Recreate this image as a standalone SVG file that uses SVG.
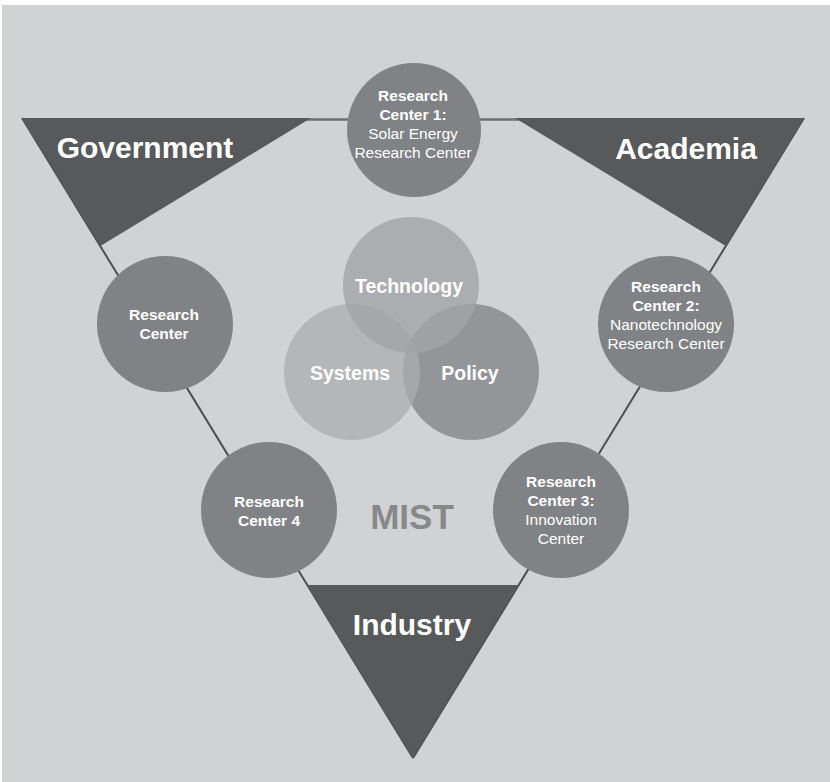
<svg xmlns="http://www.w3.org/2000/svg" width="830" height="782" viewBox="0 0 830 782">
  <style>
    .lbl { font-family: "Liberation Sans", Arial, sans-serif; fill: #ffffff; text-anchor: middle; }
    .big { font-size: 30px; font-weight: bold; }
    .rcb { font-size: 15.5px; font-weight: bold; }
    .rcn { font-size: 15.5px; font-weight: normal; }
    .venn { font-size: 19.5px; font-weight: bold; }
    .tri { fill: #58595b; }
    .rc { fill: #808285; }
  </style>
  <rect x="0" y="0" width="830" height="782" fill="#ffffff"/>
  <rect x="2" y="5" width="828" height="777" fill="#d1d2d4"/>

  <g id="connectors">
    <line x1="300" y1="119.5" x2="530" y2="119.5" stroke="#6d6e71" stroke-width="2.5"/>
    <line x1="22" y1="118" x2="413" y2="758" stroke="#4d4e50" stroke-width="2"/>
    <line x1="804" y1="118" x2="413" y2="758" stroke="#4d4e50" stroke-width="2"/>
  </g>

  <g id="government">
    <polygon class="tri" points="22,118 311,118 100.4,246"/>
    <text class="lbl big" x="145" y="158">Government</text>
  </g>
  <g id="academia">
    <polygon class="tri" points="515,118 804,118 725.8,246"/>
    <text class="lbl big" x="686" y="159">Academia</text>
  </g>
  <g id="industry">
    <polygon class="tri" points="307,585 518,585 413,758"/>
    <text class="lbl big" x="412" y="635">Industry</text>
  </g>

  <g id="rc1">
    <circle class="rc" cx="414" cy="130" r="67"/>
    <text class="lbl rcb" x="413" y="101">Research</text>
    <text class="lbl rcb" x="413" y="120">Center 1:</text>
    <text class="lbl rcn" x="413" y="139">Solar Energy</text>
    <text class="lbl rcn" x="413" y="158">Research Center</text>
  </g>
  <g id="rc-left">
    <circle class="rc" cx="165" cy="324" r="68"/>
    <text class="lbl rcb" x="164" y="320">Research</text>
    <text class="lbl rcb" x="164" y="339">Center</text>
  </g>
  <g id="rc2">
    <circle class="rc" cx="666" cy="324" r="68"/>
    <text class="lbl rcb" x="666" y="292">Research</text>
    <text class="lbl rcb" x="666" y="311">Center 2:</text>
    <text class="lbl rcn" x="666" y="330">Nanotechnology</text>
    <text class="lbl rcn" x="666" y="349">Research Center</text>
  </g>
  <g id="rc4">
    <circle class="rc" cx="269" cy="510" r="68"/>
    <text class="lbl rcb" x="269" y="507">Research</text>
    <text class="lbl rcb" x="269" y="526">Center 4</text>
  </g>
  <g id="rc3">
    <circle class="rc" cx="561" cy="510" r="68"/>
    <text class="lbl rcb" x="561" y="487">Research</text>
    <text class="lbl rcb" x="561" y="506">Center 3:</text>
    <text class="lbl rcn" x="561" y="525">Innovation</text>
    <text class="lbl rcn" x="561" y="544">Center</text>
  </g>

  <g id="policy">
    <circle cx="471" cy="372" r="68" fill="#939598"/>
  </g>
  <g id="systems">
    <circle cx="352" cy="372" r="68" fill="#acadaf" fill-opacity="0.77"/>
  </g>
  <g id="technology">
    <circle cx="411" cy="285" r="68" fill="#a3a4a6" fill-opacity="0.8"/>
    <text class="lbl venn" x="409" y="293">Technology</text>
  </g>
  <text class="lbl venn" x="350" y="380">Systems</text>
  <text class="lbl venn" x="470" y="380">Policy</text>

  <g id="mist">
    <text x="412" y="529" font-family="Liberation Sans, Arial, sans-serif" font-size="35" font-weight="bold" fill="#87888b" text-anchor="middle">MIST</text>
  </g>
</svg>
